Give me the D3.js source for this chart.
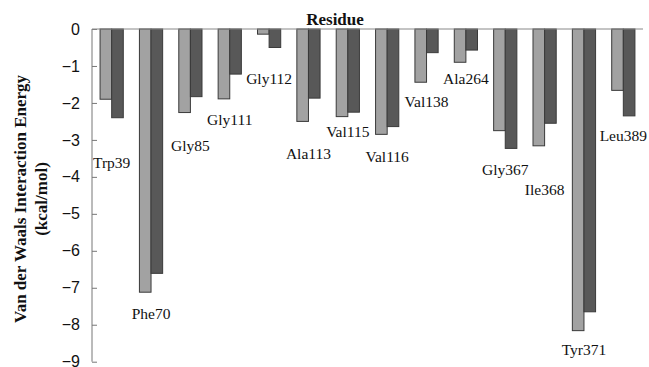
<!DOCTYPE html>
<html><head><meta charset="utf-8">
<script src="https://cdn.jsdelivr.net/npm/d3@7"></script>
<style>html,body{margin:0;padding:0;background:#fff;overflow:hidden}</style>
</head><body><svg id="c" width="649" height="367"></svg>
<script>
const categories = ["Trp39","Phe70","Gly85","Gly111","Gly112","Ala113","Val115","Val116","Val138","Ala264","Gly367","Ile368","Tyr371","Leu389"];
const seriesLight = [-1.90,-7.12,-2.26,-1.89,-0.14,-2.50,-2.37,-2.85,-1.44,-0.90,-2.75,-3.16,-8.16,-1.66];
const seriesDark  = [-2.40,-6.61,-1.83,-1.22,-0.50,-1.87,-2.25,-2.64,-0.64,-0.57,-3.23,-2.55,-7.65,-2.35];
const labelAt     = [-3.60,-7.70,-3.14,-2.46,-1.35,-3.36,-2.78,-3.44,-1.97,-1.33,-3.80,-4.35,-8.68,-2.89];
const yTicks = [0,-1,-2,-3,-4,-5,-6,-7,-8,-9];

const svg = d3.select("#c");
const mL = 92, mR = 643, mT = 29, mB = 361.7;
const x = d3.scaleBand().domain(categories).range([mL, mR]).paddingInner(0.41).paddingOuter(0.205);
const sub = d3.scaleBand().domain(["a","b"]).range([0, x.bandwidth()]);
const y = d3.scaleLinear().domain([0, -9]).range([mT, mB]);

const rows = categories.map((c,i)=>({c, a:seriesLight[i], b:seriesDark[i], l:labelAt[i]}));

// bars
const g = svg.append("g");
rows.forEach(r=>{
  [["a", r.a, "#a2a2a2"],["b", r.b, "#585858"]].forEach(([k,v,col])=>{
    g.append("rect")
      .attr("x", x(r.c)+sub(k))
      .attr("y", y(0))
      .attr("width", sub.bandwidth())
      .attr("height", y(v)-y(0))
      .attr("fill", col).attr("stroke", "#3a3a3a").attr("stroke-width", 1);
  });
});

// axis
const yAxis = d3.axisLeft(y).tickValues(yTicks).tickSize(-5).tickPadding(12).tickFormat(d3.format("d"));
const ax = svg.append("g").attr("transform", `translate(${mL},0)`).call(yAxis);
ax.select(".domain").attr("stroke", "#777").attr("d", `M0,${mT}V${mB}`);
ax.selectAll(".tick line").attr("stroke", "#777");
ax.selectAll(".tick text").attr("font-family", "Liberation Sans, Arial, sans-serif").attr("font-size", 16).attr("fill", "#111");

// zero line
svg.append("line").attr("x1", mL).attr("x2", mR).attr("y1", y(0)).attr("y2", y(0)).attr("stroke", "#888");

// residue labels
svg.append("g").selectAll("text").data(rows).join("text")
  .attr("x", d=>x(d.c)+x.bandwidth()/2)
  .attr("y", d=>y(d.l))
  .attr("dy", "0.35em")
  .attr("text-anchor", "middle")
  .attr("font-family", "Liberation Serif, Times New Roman, serif")
  .attr("font-size", 15.5).attr("fill", "#111")
  .text(d=>d.c);

// titles
svg.append("text").attr("x", 335).attr("y", 25).attr("text-anchor", "middle")
  .attr("font-family", "Liberation Serif, Times New Roman, serif").attr("font-weight", "bold")
  .attr("font-size", 17).attr("fill", "#111").text("Residue");
const yt = svg.append("text").attr("transform", "translate(20,199) rotate(-90)")
  .attr("text-anchor", "middle").attr("font-family", "Liberation Serif, Times New Roman, serif")
  .attr("font-weight", "bold").attr("font-size", 17).attr("fill", "#111");
yt.append("tspan").attr("x", 0).attr("dy", "0.35em").text("Van der Waals Interaction Energy");
yt.append("tspan").attr("x", 0).attr("dy", "1.25em").text("(kcal/mol)");
</script></body></html>
